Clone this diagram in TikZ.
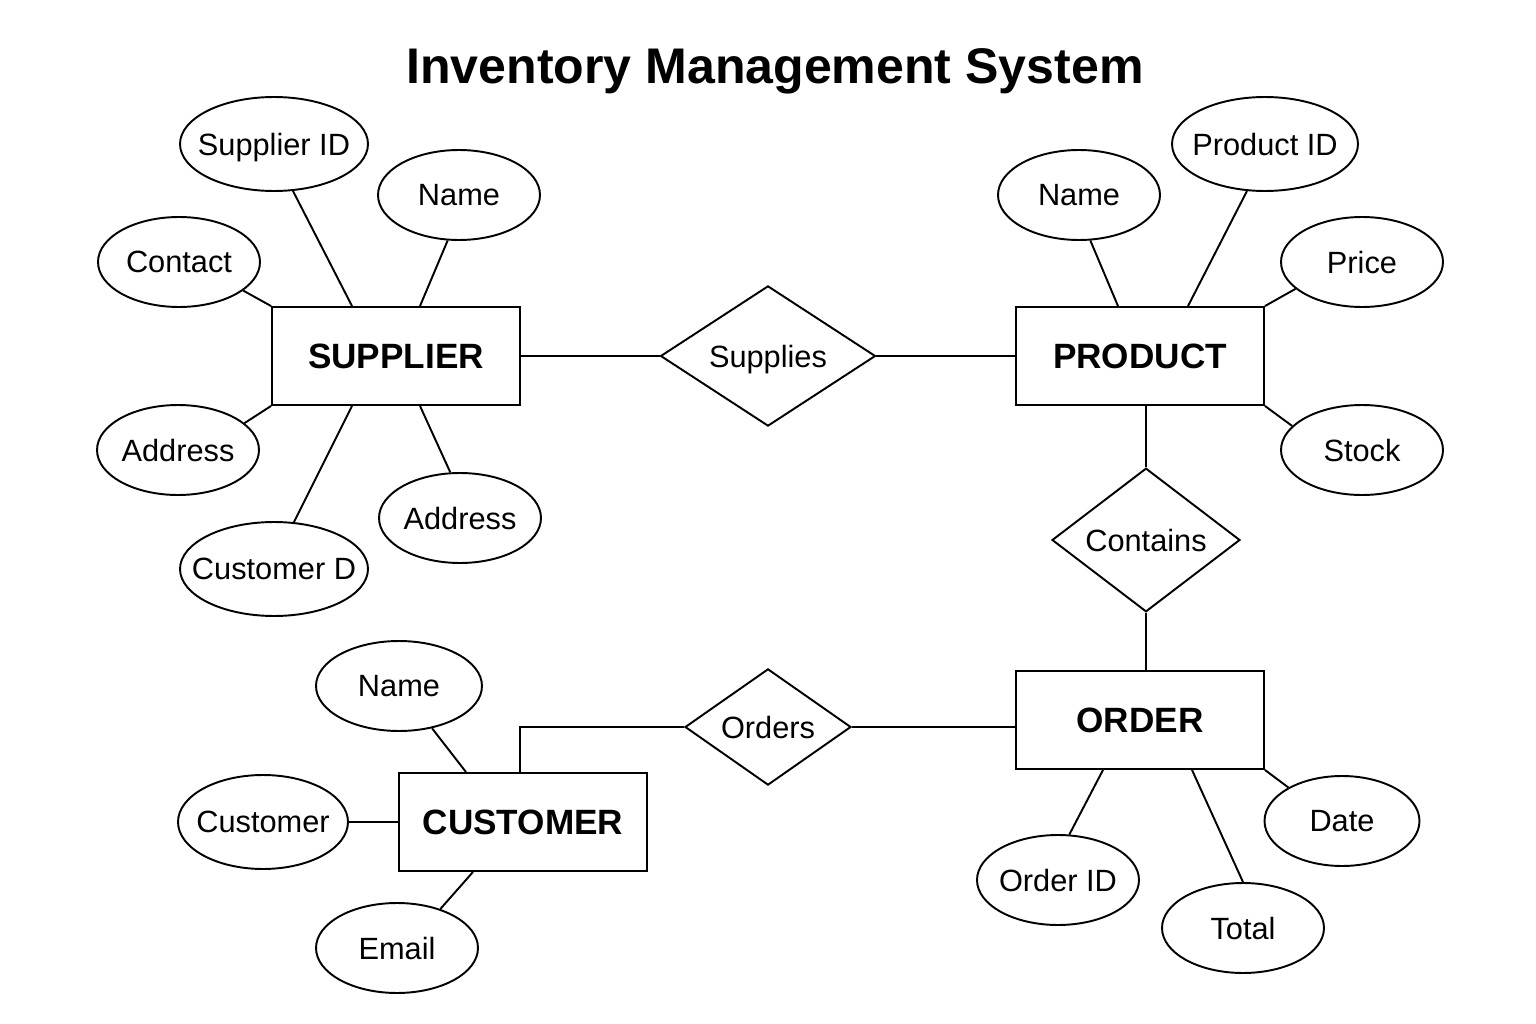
\documentclass[tikz,border=0pt]{standalone}
\usepackage{fontspec}
\setmainfont{Liberation Sans}
\usetikzlibrary{calc, shapes.geometric}

\begin{document}
\begin{tikzpicture}[x=0.02cm, y=-0.02cm, line width=1.1pt,
  entity/.style={draw, rectangle, minimum width=4.96cm, minimum height=1.96cm, text depth=0pt, font=\fontsize{20}{24}\selectfont\bfseries},
  attr/.style={draw, ellipse, inner ysep=0pt, inner xsep=-9pt, text depth=0pt, minimum width=3.24cm, minimum height=1.8cm, font=\fontsize{17.5}{21}\selectfont},
  wide-attr/.style={attr, minimum width=3.76cm, minimum height=1.88cm},
  relation/.style={draw, diamond, inner sep=0pt, text depth=0pt, font=\fontsize{17.5}{21}\selectfont}]
\useasboundingbox (0,0) rectangle (1536,1024);
% Title
\node[font=\fontsize{28.5}{34}\selectfont\bfseries] (title) at (775,71) {Inventory Management System};
% Entities
\node[entity] (supplier) at (396,356) {SUPPLIER};
\node[entity] (product) at (1140,356) {PRODUCT};
\node[entity] (order) at (1140,720) {ORDER};
\node[entity] (customer) at (523,822) {CUSTOMER};
% Relationships
\node[relation, minimum width=4.3cm, minimum height=2.48cm] (supplies) at (768,356) {Supplies};
\node[relation, minimum width=3.76cm, minimum height=2.66cm] (contains) at (1146,540) {Contains};
\node[relation, minimum width=3.32cm, minimum height=2.08cm] (orders) at (768,727) {Orders};
% Supplier attributes
\node[wide-attr] (supplier-id) at (274,144) {Supplier ID};
\node[attr] (supplier-name) at (459,195) {Name};
\node[attr] (supplier-contact) at (179,262) {Contact};
\node[attr] (supplier-address1) at (178,450) {Address};
\node[wide-attr] (supplier-customer) at (274,569) {Customer D};
\node[attr] (supplier-address2) at (460,518) {Address};
% Product attributes
\node[attr] (product-name) at (1079,195) {Name};
\node[wide-attr, minimum width=3.72cm] (product-id) at (1265,144) {Product ID};
\node[attr] (product-price) at (1362,262) {Price};
\node[attr] (product-stock) at (1362,450) {Stock};
% Customer attributes
\node[attr, minimum width=3.32cm] (customer-name) at (399,686) {Name};
\node[attr, minimum width=3.4cm, minimum height=1.88cm] (customer-customer) at (263,822) {Customer};
\node[attr] (customer-email) at (397,948) {Email};
% Order attributes
\node[attr] (order-id) at (1058,880) {Order ID};
\node[attr] (order-total) at (1243,928) {Total};
\node[attr, minimum width=3.1cm] (order-date) at (1342,821) {Date};
% Draw supplier links
\draw (supplier-id.-68) -- ($(supplier.north)+(-44,0)$);
\draw (supplier-name.-104) -- ($(supplier.north)+(24,0)$);
\draw (supplier-contact.-24) -- (supplier.north west);
\draw (supplier-address1.22) -- (supplier.south west);
\draw (supplier-customer.67) -- ($(supplier.south)+(-44,0)$);
\draw (supplier-address2.102) -- ($(supplier.south)+(24,0)$);
% Draw product links
\draw (product-name.-76) -- ($(product.north)+(-22,0)$);
\draw (product-id.-111) -- ($(product.north)+(48,0)$);
\draw (product-price.-158) -- (product.north east);
\draw (product-stock.161) -- (product.south east);
% Draw customer links
\draw (customer-name.-52) -- ($(customer.north)+(-57,0)$);
\draw (customer-customer.east) -- (customer.west);
\draw (customer-email.42) -- ($(customer.south)+(-50,0)$);
% Draw order links
\draw (order-id.76) -- ($(order.south)+(-37,0)$);
\draw (order-total.north) -- ($(order.south)+(52,0)$);
\draw (order-date.148) -- (order.south east);
% Draw relationship links
\draw (supplier.east) -- (supplies.west);
\draw (supplies.east) -- (product.west);
\draw (contains.north) -- (contains.north |- product.south);
\draw (contains.south) -- (contains.south |- order.north);
\draw (orders.east) -- (orders.east -| order.west);
\draw (orders.west) -| ($(customer.north)+(-3,0)$);
\end{tikzpicture}
\end{document}
